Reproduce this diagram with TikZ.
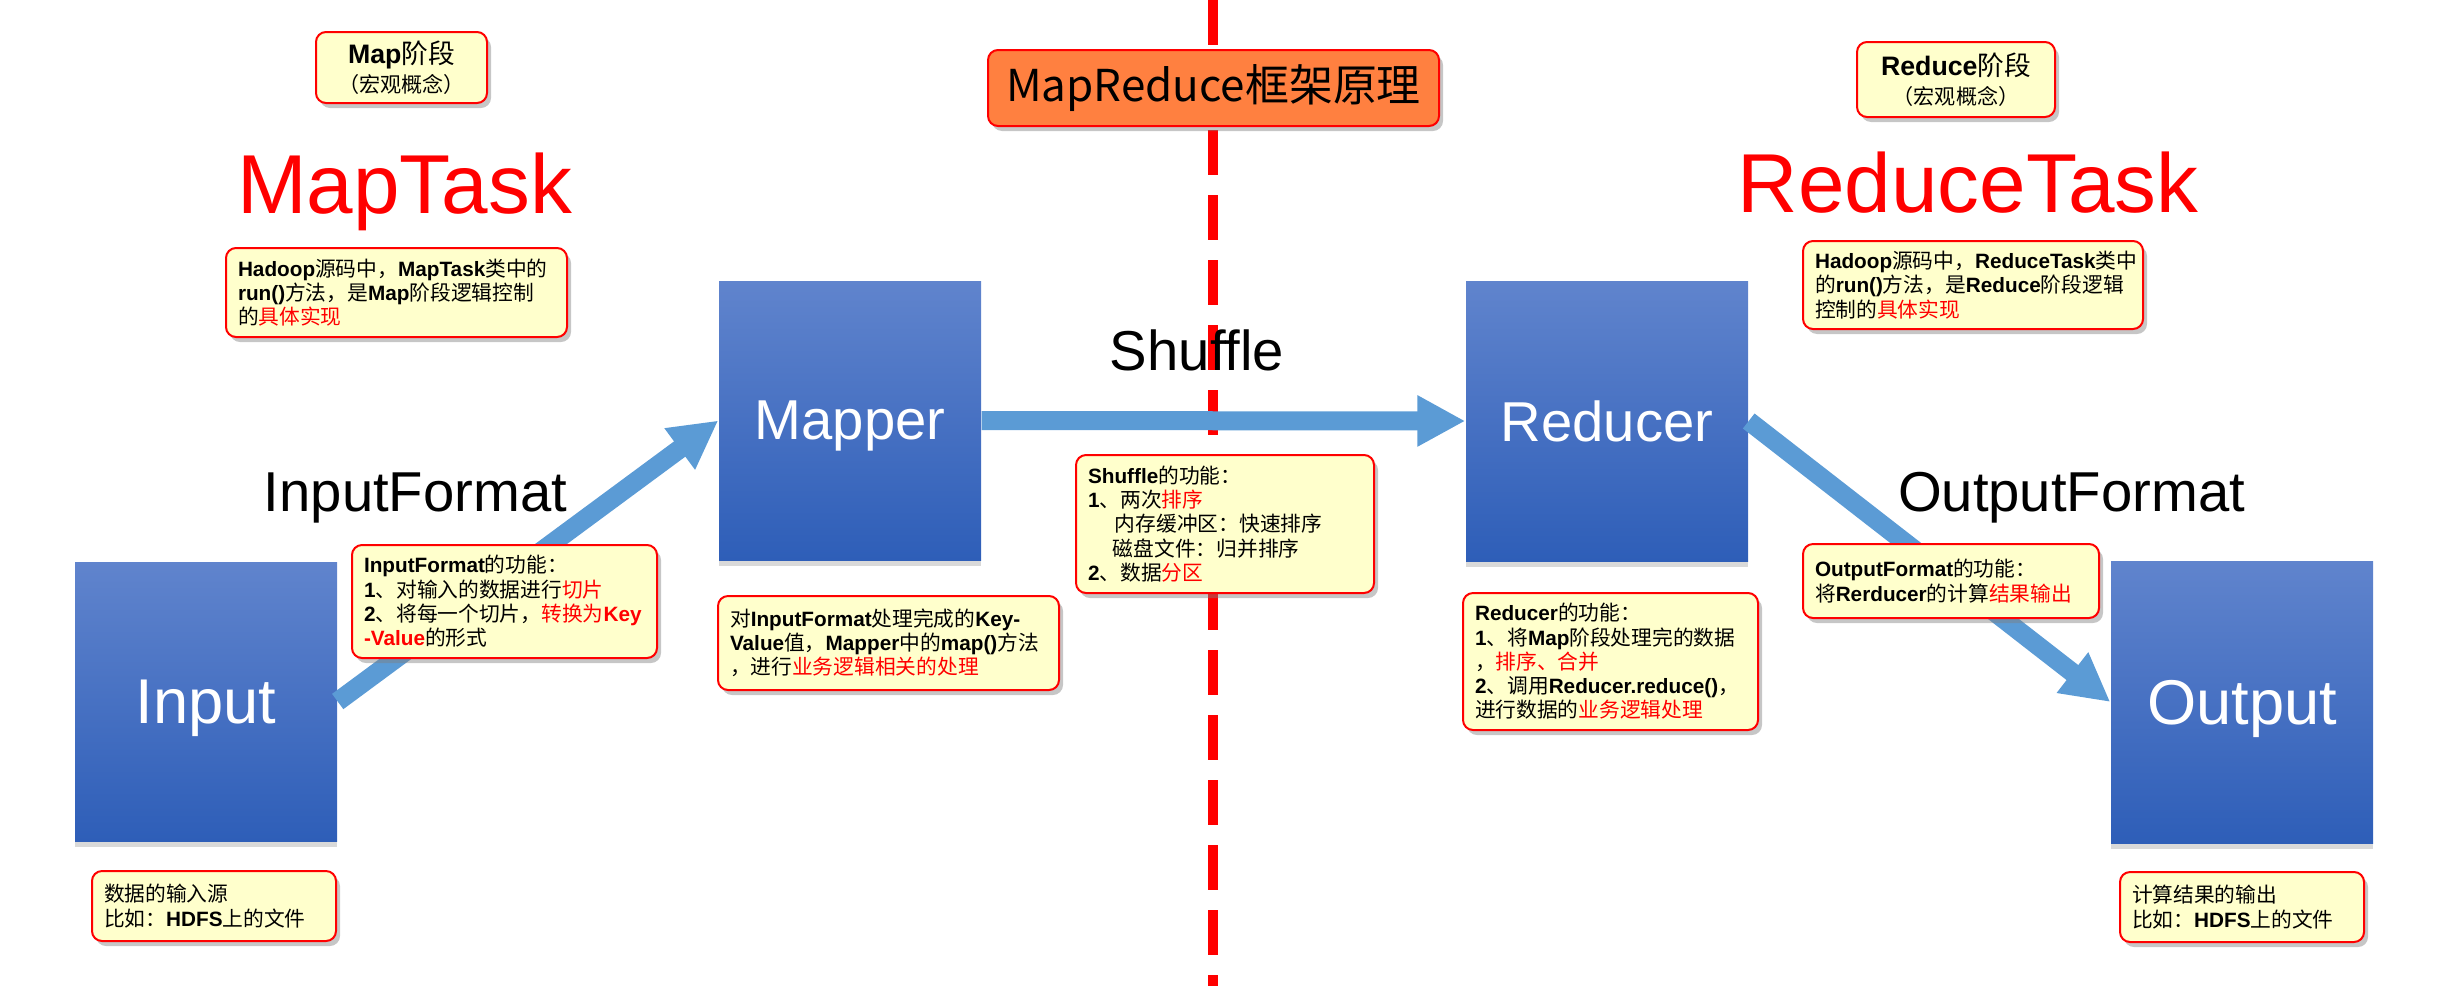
\documentclass[tikz,border=0pt]{standalone}
\usepackage{fontspec}
\setmainfont{Liberation Sans}
\newfontfamily\cjk{Noto Sans CJK SC}
\usepackage{xcolor}
\usetikzlibrary{arrows.meta,shadows}

\definecolor{notefill}{RGB}{255,255,204}
\definecolor{boxtop}{RGB}{96,132,205}
\definecolor{boxbot}{RGB}{46,94,184}
\definecolor{flowblue}{RGB}{91,155,213}
\definecolor{titlefill}{RGB}{255,128,64}

\newcommand{\zh}[1]{{\cjk #1}}
\newcommand{\en}[1]{{\bfseries #1}}
\newcommand{\hl}[1]{\textcolor{red}{#1}}

\begin{document}
\begin{tikzpicture}[x=0.1mm, y=-0.1mm,
    bluebox/.style={rectangle, top color=boxtop, bottom color=boxbot, draw=none, text=white, text depth=0pt, minimum width=26.2mm, minimum height=27.9mm, drop shadow={shadow xshift=0mm, shadow yshift=-0.6mm, opacity=0.3}},
    note/.style={rectangle, draw=red, fill=notefill, line width=0.2mm, rounded corners=1mm, inner xsep=1.2mm, inner ysep=0.4mm, align=left, font=\fontsize{5.9}{6.9}\selectfont, drop shadow={shadow xshift=0.4mm, shadow yshift=-0.5mm, opacity=0.45}},
    titlebox/.style={rectangle, draw=red, fill=titlefill, line width=0.2mm, rounded corners=1mm, inner sep=0pt, font=\cjk\fontsize{12.5}{14}\selectfont, drop shadow={shadow xshift=0.4mm, shadow yshift=-0.5mm, opacity=0.45}},
    flow/.style={-{Triangle[length=4.8mm, width=4.8mm]}, line width=1.9mm, draw=flowblue},
    divider/.style={red, line width=1mm, dash pattern=on 4.5mm off 2mm},
    stagetext/.style={font=\fontsize{16}{18}\selectfont},
    tasktext/.style={text=red, inner sep=0pt, font=\fontsize{23.8}{26}\selectfont}
]
    \useasboundingbox (0,0) rectangle (2461,986);

    % Divider between map and reduce side
    \coordinate (divtop) at (1213,0);
    \coordinate (divbot) at (1213,986);
    \draw[divider] (divtop) -- (divbot);

    % Title
    \node[titlebox, minimum width=45.1mm, minimum height=7.6mm] (title) at (1213.5,88) {MapReduce框架原理};

    % Main blocks
    \node[bluebox, font=\fontsize{18}{20}\selectfont] (input) at (206,701.5) {Input};
    \node[bluebox, font=\fontsize{16}{18}\selectfont] (mapper) at (850,420.5) {Mapper};
    \node[bluebox, font=\fontsize{16}{18}\selectfont, minimum width=28.2mm, minimum height=28mm] (reducer) at (1607,421) {Reducer};
    \node[bluebox, font=\fontsize{18}{20}\selectfont, minimum height=28.2mm] (output) at (2242,702) {Output};

    % Data flow
    \draw[flow] (input.east) -- (mapper.west);
    \draw[flow] (mapper.east) -- (reducer.west);
    \draw[flow] (reducer.east) -- (output.west);

    % Stage labels
    \node[stagetext, anchor=base] (inputformat) at (415.5,511) {InputFormat};
    \node[stagetext, anchor=base] (shuffle) at (1197,370) {Shuffle};
    \node[stagetext, anchor=base] (outputformat) at (2071.5,511) {OutputFormat};
    \node[tasktext, anchor=base] (maptask) at (404.5,213) {MapTask};
    \node[tasktext, anchor=base] (reducetask) at (1968,212) {ReduceTask};

    % Stage boxes (top)
    \node[note, align=center, inner xsep=0pt, text width=17.1mm, minimum height=7.1mm, font=\fontsize{7.6}{8.2}\selectfont] (mapstage) at (401.5,67.5)
        {\en{Map}\zh{阶段}\\ {\fontsize{6}{6.5}\selectfont\zh{（宏观概念）}}};
    \node[note, align=center, inner xsep=0pt, text width=19.8mm, minimum height=7.5mm, font=\fontsize{7.6}{8.2}\selectfont] (reducestage) at (1956,79.5)
        {\en{Reduce}\zh{阶段}\\ {\fontsize{6}{6.5}\selectfont\zh{（宏观概念）}}};

    % Notes
    \node[note, text width=31.7mm, minimum height=8.9mm] (maptasknote) at (396.5,292.5)
        {\en{Hadoop}\zh{源码中，}\en{MapTask}\zh{类中的}\\
         \en{run()}\zh{方法，是}\en{Map}\zh{阶段逻辑控制}\\
         \zh{的}\hl{\zh{具体实现}}};
    \node[note, text width=31.6mm, minimum height=8.8mm] (reducetasknote) at (1973,285)
        {\en{Hadoop}\zh{源码中，}\en{ReduceTask}\zh{类中}\\
         \zh{的}\en{run()}\zh{方法，是}\en{Reduce}\zh{阶段逻辑}\\
         \zh{控制的}\hl{\zh{具体实现}}};
    \node[note, text width=28.1mm, minimum height=11.3mm] (inputformatnote) at (504.5,601.5)
        {\en{InputFormat}\zh{的功能：}\\
         \en{1}\zh{、对输入的数据进行}\hl{\zh{切片}}\\
         \en{2}\zh{、将每一个切片，}\hl{\zh{转换为}\en{Key}}\\
         \hl{\en{-Value}}\zh{的形式}};
    \node[note, text width=31.7mm, minimum height=9.4mm] (mappernote) at (888.5,643)
        {\zh{对}\en{InputFormat}\zh{处理完成的}\en{Key-}\\
         \en{Value}\zh{值，}\en{Mapper}\zh{中的}\en{map()}\zh{方法}\\
         \zh{，进行}\hl{\zh{业务逻辑相关的处理}}};
    \node[note, text width=22.0mm, minimum height=7.0mm] (inputnote) at (214,906)
        {\zh{数据的输入源}\\
         \zh{比如：}\en{HDFS}\zh{上的文件}};
    \node[note, text width=27.4mm, minimum height=13.8mm] (shufflenote) at (1225,524)
        {\en{Shuffle}\zh{的功能：}\\
         \en{1}\zh{、两次}\hl{\zh{排序}}\\
         \hspace*{1.3em}\zh{内存缓冲区：快速排序}\\
         \hspace*{1.2em}\zh{磁盘文件：归并排序}\\
         \en{2}\zh{、数据}\hl{\zh{分区}}};
    \node[note, text width=27.1mm, minimum height=13.7mm] (reducernote) at (1610.5,661.5)
        {\en{Reducer}\zh{的功能：}\\
         \en{1}\zh{、将}\en{Map}\zh{阶段处理完的数据}\\
         \zh{，}\hl{\zh{排序、合并}}\\
         \en{2}\zh{、调用}\en{Reducer.reduce()}\zh{，}\\
         \zh{进行数据的}\hl{\zh{业务逻辑处理}}};
    \node[note, text width=27.2mm, minimum height=7.4mm] (outputformatnote) at (1951,581)
        {\en{OutputFormat}\zh{的功能：}\\
         \zh{将}\en{Rerducer}\zh{的计算}\hl{\zh{结果输出}}};
    \node[note, text width=22.0mm, minimum height=7.0mm] (outputnote) at (2242,907)
        {\zh{计算结果的输出}\\
         \zh{比如：}\en{HDFS}\zh{上的文件}};
\end{tikzpicture}
\end{document}
